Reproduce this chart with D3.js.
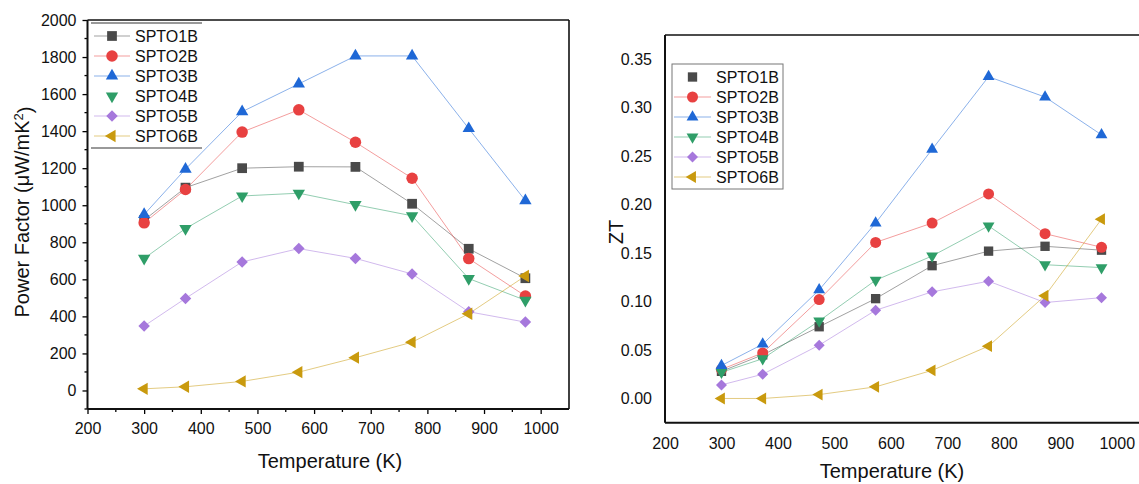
<!DOCTYPE html>
<html>
<head>
<meta charset="utf-8">
<script src="https://d3js.org/d3.v7.min.js"></script>
<style>
  body { margin: 0; background: #fff; }
  svg { display: block; font-family: "Liberation Sans", Arial, sans-serif; }
</style>
</head>
<body>
<svg id="chart"></svg>
<script>
// Temperatures (K) shared by both panels
const temps = [300, 373, 473, 573, 673, 773, 873, 973];
const samples = ["SPTO1B", "SPTO2B", "SPTO3B", "SPTO4B", "SPTO5B", "SPTO6B"];
const colors = ["#4a4a4a", "#e84141", "#1f68d6", "#2f9e68", "#a678dc", "#c99a0e"];
const markers = ["square", "circle", "up", "down", "diamond", "left"];

// Power factor (uW/mK^2)
const pf1 = [920, 1095, 1200, 1208, 1207, 1008, 765, 606];
const pf2 = [905, 1085, 1395, 1515, 1340, 1146, 712, 510];
const pf3 = [950, 1195, 1505, 1655, 1806, 1806, 1414, 1025];
const pf4 = [713, 874, 1050, 1065, 1003, 943, 604, 487];
const pf5 = [348, 497, 694, 766, 713, 629, 425, 369];
const pf6 = [9, 20, 49, 99, 177, 261, 414, 618];

// ZT
const zt1 = [0.028, 0.045, 0.074, 0.103, 0.137, 0.152, 0.157, 0.153];
const zt2 = [0.030, 0.047, 0.102, 0.161, 0.181, 0.211, 0.170, 0.156];
const zt3 = [0.034, 0.056, 0.112, 0.181, 0.257, 0.332, 0.311, 0.272];
const zt4 = [0.027, 0.041, 0.080, 0.122, 0.147, 0.178, 0.138, 0.135];
const zt5 = [0.014, 0.025, 0.055, 0.091, 0.110, 0.121, 0.099, 0.104];
const zt6 = [0.000, 0.000, 0.004, 0.012, 0.029, 0.054, 0.106, 0.185];

const pfTicks = [0, 200, 400, 600, 800, 1000, 1200, 1400, 1600, 1800, 2000];
const ztTicks = [0, 0.05, 0.10, 0.15, 0.20, 0.25, 0.30, 0.35];
const tTicks = [200, 300, 400, 500, 600, 700, 800, 900, 1000];

const svg = d3.select("#chart").attr("width", 1139).attr("height", 484);

function markerPath(type, s) {
  const sym = d3.symbol();
  if (type === "square") return sym.type(d3.symbolSquare).size(s * s * 0.72)();
  if (type === "circle") return sym.type(d3.symbolCircle).size(Math.PI * s * s / 4)();
  if (type === "diamond") return sym.type(d3.symbolSquare).size(s * s * 0.5)();
  return sym.type(d3.symbolTriangle).size(s * s * 0.5)();
}
function markerRot(type) {
  if (type === "down") return 180;
  if (type === "left") return -90;
  if (type === "diamond") return 45;
  return 0;
}

function drawPanel(cfg) {
  const g = svg.append("g");
  const x = d3.scaleLinear().domain([200, 1050]).range(cfg.xRange);
  const y = d3.scaleLinear().domain(cfg.yDomain).range(cfg.yRange);

  const xAxis = d3.axisBottom(x).tickValues(tTicks).tickFormat(d3.format("d"))
    .tickSize(cfg.tick).tickPadding(cfg.xPad);
  const yAxis = d3.axisLeft(y).tickValues(cfg.yTicks).tickFormat(cfg.fmt)
    .tickSize(cfg.tick).tickPadding(cfg.yPad);

  const xg = g.append("g").attr("transform", `translate(0,${cfg.yRange[0]})`).call(xAxis);
  const yg = g.append("g").attr("transform", `translate(${cfg.xRange[0]},0)`).call(yAxis);
  [xg, yg].forEach(a => {
    a.select(".domain").remove();
    a.selectAll("line").attr("stroke", "#000").attr("stroke-width", 1.3);
    a.selectAll("text").attr("fill", "#111").style("font-size", "16px");
  });

  if (cfg.tick > 0) {
    // minor ticks
    g.selectAll(".xminor").data(d3.range(250, 1001, 100)).join("line")
      .attr("x1", d => x(d)).attr("x2", d => x(d))
      .attr("y1", cfg.yRange[0]).attr("y2", cfg.yRange[0] + 3)
      .attr("stroke", "#000").attr("stroke-width", 1.3);
    g.selectAll(".yminor").data(cfg.yMinor).join("line")
      .attr("x1", cfg.xRange[0] - 3).attr("x2", cfg.xRange[0])
      .attr("y1", d => y(d)).attr("y2", d => y(d))
      .attr("stroke", "#000").attr("stroke-width", 1.3);
  }

  // frame
  const x0 = cfg.xRange[0], x1 = cfg.xRange[1], yb = cfg.yRange[0], yt = cfg.yRange[1];
  g.append("line").attr("x1", x0).attr("x2", x1).attr("y1", yt).attr("y2", yt)
    .attr("stroke", "#111").attr("stroke-width", 1.6);
  if (cfg.rightBorder)
    g.append("line").attr("x1", x1).attr("x2", x1).attr("y1", yt).attr("y2", yb)
      .attr("stroke", "#111").attr("stroke-width", 1.6);
  g.append("line").attr("x1", x0).attr("x2", x1).attr("y1", yb).attr("y2", yb)
    .attr("stroke", "#111").attr("stroke-width", 2);
  g.append("line").attr("x1", x0).attr("x2", x0).attr("y1", yt).attr("y2", yb)
    .attr("stroke", "#111").attr("stroke-width", 2);

  // series
  const line = d3.line().x((d, i) => x(temps[i])).y(d => y(d));
  cfg.series.forEach((vals, k) => {
    g.append("path").datum(vals)
      .attr("d", line)
      .attr("fill", "none")
      .attr("stroke", colors[k])
      .attr("stroke-opacity", 0.65)
      .attr("stroke-width", 0.8);
  });
  cfg.series.forEach((vals, k) => {
    g.selectAll(null).data(vals).join("path")
      .attr("d", markerPath(markers[k], cfg.ms))
      .attr("transform", (d, i) => `translate(${x(temps[i])},${y(d)}) rotate(${markerRot(markers[k])})`)
      .attr("fill", colors[k]);
  });

  // legend
  const L = cfg.legend;
  if (L.box) {
    g.append("rect").attr("x", L.x).attr("y", L.y).attr("width", L.w).attr("height", L.h)
      .attr("fill", "#fff").attr("stroke", "#777").attr("stroke-width", 1);
  } else {
    [L.y, L.y + L.h].forEach(yy => g.append("line")
      .attr("x1", L.x).attr("x2", L.x + L.w).attr("y1", yy).attr("y2", yy)
      .attr("stroke", "#999").attr("stroke-width", 2));
  }
  samples.forEach((name, k) => {
    const ry = L.row0 + k * 20;
    if (k !== L.noLine)
      g.append("line").attr("x1", L.lx0).attr("x2", L.lx1).attr("y1", ry).attr("y2", ry)
        .attr("stroke", colors[k]).attr("stroke-opacity", 0.65).attr("stroke-width", 0.8);
    g.append("path").attr("d", markerPath(markers[k], cfg.ms))
      .attr("transform", `translate(${(L.lx0 + L.lx1) / 2},${ry}) rotate(${markerRot(markers[k])})`)
      .attr("fill", colors[k]);
    g.append("text").attr("x", L.tx).attr("y", ry).attr("dy", "0.36em")
      .style("font-size", "16px").attr("fill", "#111").text(name);
  });

  // axis titles
  g.append("text").attr("x", cfg.xTitle[0]).attr("y", cfg.xTitle[1])
    .attr("text-anchor", "middle").style("font-size", "20px").attr("fill", "#111")
    .text("Temperature (K)");
  const yt2 = g.append("text")
    .attr("transform", `translate(${cfg.yTitle[0]},${cfg.yTitle[1]}) rotate(-90)`)
    .attr("text-anchor", "middle").style("font-size", "20px").attr("fill", "#111");
  cfg.yLabel(yt2);
}

drawPanel({
  xRange: [87.5, 569], yDomain: [-100, 2000], yRange: [409, 20],
  yTicks: pfTicks, yMinor: d3.range(-100, 2001, 200), fmt: d3.format("d"),
  tick: 5, xPad: 9, yPad: 6, rightBorder: true, ms: 11.5,
  series: [pf1, pf2, pf3, pf4, pf5, pf6],
  legend: { box: false, x: 91, y: 23, w: 111, h: 125, row0: 36, lx0: 94, lx1: 130, tx: 135, noLine: 3 },
  xTitle: [330, 468], yTitle: [29, 212],
  yLabel: t => {
    t.append("tspan").text("Power Factor (\u03BCW/mK");
    t.append("tspan").attr("dy", "-0.45em").style("font-size", "13px").text("2");
    t.append("tspan").attr("dy", "0.45em").text(")");
  }
});

drawPanel({
  xRange: [665, 1145], yDomain: [-0.025, 0.375], yRange: [422.7, 35],
  yTicks: ztTicks, yMinor: [], fmt: d3.format(".2f"),
  tick: 0, xPad: 15, yPad: 13, rightBorder: false, ms: 11,
  series: [zt1, zt2, zt3, zt4, zt5, zt6],
  legend: { box: true, x: 672, y: 64, w: 111, h: 125, row0: 77, lx0: 674, lx1: 711, tx: 716, noLine: 0 },
  xTitle: [892, 478], yTitle: [623, 232],
  yLabel: t => t.text("ZT")
});
</script>
</body>
</html>
